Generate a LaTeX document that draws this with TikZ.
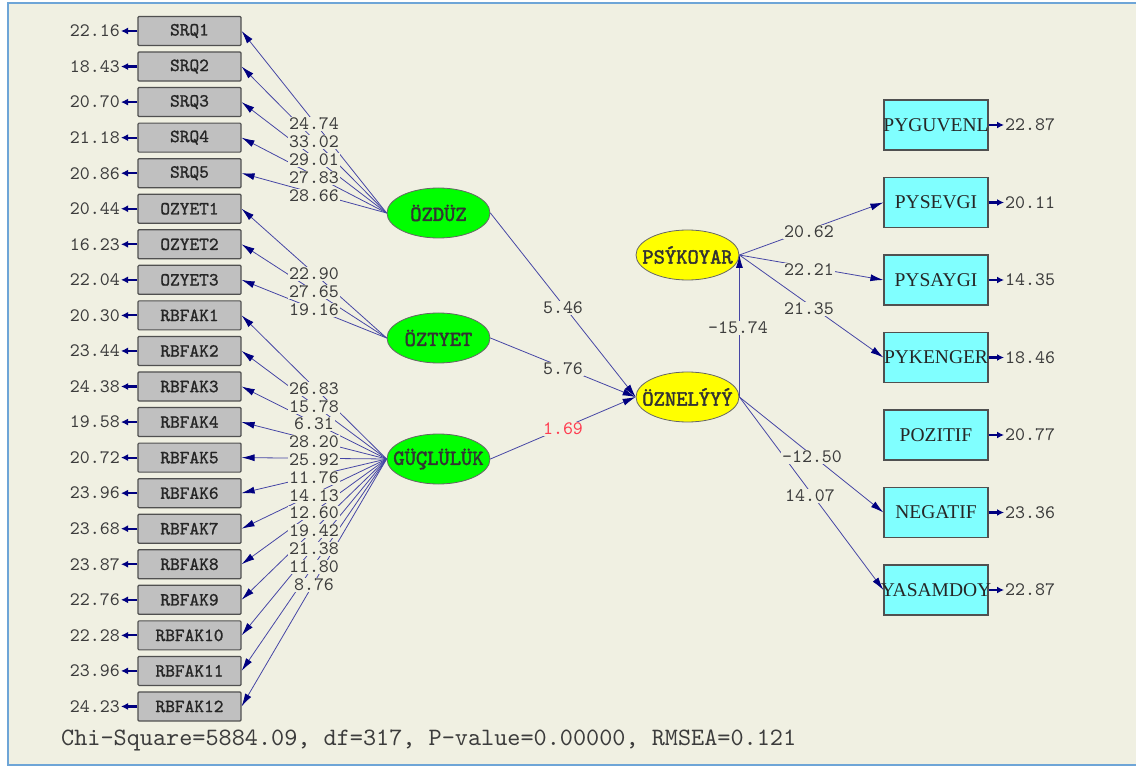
\documentclass[tikz,border=0pt]{standalone}
\usepackage{fontspec}
\setmainfont{Liberation Serif}
\newfontfamily\cour{lmmono10-regular.otf}
\newfontfamily\courb{lmmono10-regular.otf}[FakeBold=2]
\newfontfamily\courm{lmmono10-regular.otf}[FakeBold=1.2]
\newfontfamily\lserif{Liberation Serif}
\usetikzlibrary{shapes.geometric,arrows.meta}
\definecolor{bg}{RGB}{240,240,226}
\definecolor{framec}{RGB}{110,165,215}
\definecolor{boxgray}{RGB}{192,192,192}
\definecolor{edgec}{RGB}{80,80,80}
\definecolor{cyanbox}{RGB}{128,255,255}
\definecolor{latgreen}{RGB}{0,255,0}
\definecolor{latyellow}{RGB}{255,255,0}
\definecolor{pathc}{RGB}{70,70,165}
\definecolor{tipc}{RGB}{0,0,128}
\definecolor{numc}{RGB}{60,60,60}
\definecolor{redc}{RGB}{255,60,80}
\begin{document}
\begin{tikzpicture}[x=1pt,y=-1pt,
 obsL/.style={draw=edgec,line width=1.2pt,fill=boxgray,minimum width=103pt,minimum height=29pt,inner sep=0pt,rounded corners=1pt,font=\courm\fontsize{18.5}{18.5}\selectfont,text=black!85},
 obsR/.style={draw=edgec,line width=1.2pt,fill=cyanbox,minimum width=104pt,minimum height=50pt,inner sep=0pt,font=\lserif\fontsize{19.5}{19.5}\selectfont,text=black!85},
 lat/.style={ellipse,draw=black!60,line width=0.8pt,minimum width=103pt,minimum height=50pt,inner sep=0pt,font=\courb\fontsize{21.5}{21.5}\selectfont,text=black!80},
 num/.style={font=\cour\fontsize{19}{19}\selectfont,text=numc,inner sep=1pt},
 lbl/.style={num,fill=bg,inner sep=1pt},
 loadarrow/.style={draw=pathc,line width=0.8pt,-{Latex[length=13pt,width=7pt,color=tipc]}},
 errarrow/.style={draw=tipc,line width=2.2pt,-{Latex[length=7pt,width=7pt]}}
]
\useasboundingbox (0,0) rectangle (1136,767);
\clip (0,0) rectangle (1136,767);
\fill[white] (0,0) rectangle (1136,767);
\draw[framec,line width=2pt,fill=bg] (8,3) rectangle (1150,765);

% left observed variables
\foreach \lab/\v [count=\i from 0] in {SRQ1/22.16,SRQ2/18.43,SRQ3/20.70,SRQ4/21.18,SRQ5/20.86,OZYET1/20.44,OZYET2/16.23,OZYET3/22.04,RBFAK1/20.30,RBFAK2/23.44,RBFAK3/24.38,RBFAK4/19.58,RBFAK5/20.72,RBFAK6/23.96,RBFAK7/23.68,RBFAK8/23.87,RBFAK9/22.76,RBFAK10/22.28,RBFAK11/23.96,RBFAK12/24.23}{
  \node[obsL] (b\i) at (189.5,{31+35.55*\i}) {\lab};
  \node[num,anchor=east] (e\i) at (121,{31+35.55*\i}) {\v};
  \draw[errarrow] (b\i.west) -- (e\i.east);
}

% right observed variables
\foreach \lab/\v [count=\i from 1] in {PYGUVENL/22.87,PYSEVGI/20.11,PYSAYGI/14.35,PYKENGER/18.46,POZITIF/20.77,NEGATIF/23.36,YASAMDOY/22.87}{
  \node[obsR] (r\i) at (936,{125+77.5*(\i-1)}) {\makebox[0pt][c]{\lab}};
  \node[num,anchor=west] (f\i) at (1004,{125+77.5*(\i-1)}) {\v};
  \draw[errarrow] (r\i.east) -- (f\i.west);
}

% latent variables
\node[lat,fill=latgreen] (ozduz) at (438.5,213) {ÖZDÜZ};
\node[lat,fill=latgreen] (oztyet) at (438.5,338) {ÖZTYET};
\node[lat,fill=latgreen] (guc) at (438.5,459) {\makebox[0pt][c]{GÜÇLÜLÜK}};
\node[lat,fill=latyellow] (psy) at (687.5,255) {\makebox[0pt][c]{PSÝKOYAR}};
\node[lat,fill=latyellow] (ozn) at (687.5,397) {\makebox[0pt][c]{ÖZNELÝYÝ}};

% loadings
\foreach \j in {0,...,4} \draw[loadarrow] (ozduz.west) -- (b\j.east);
\foreach \j in {5,6,7} \draw[loadarrow] (oztyet.west) -- (b\j.east);
\foreach \j in {8,...,19} \draw[loadarrow] (guc.west) -- (b\j.east);

% structural paths
\draw[loadarrow] (ozduz.east) -- (ozn.west);
\draw[loadarrow] (oztyet.east) -- (ozn.west);
\draw[loadarrow] (guc.east) -- (ozn.west);
\draw[loadarrow] (ozn.east) -- (psy.east);
\draw[loadarrow] (psy.east) -- (r2.west);
\draw[loadarrow] (psy.east) -- (r3.west);
\draw[loadarrow] (psy.east) -- (r4.west);
\draw[loadarrow] (ozn.east) -- (r6.west);
\draw[loadarrow] (ozn.east) -- (r7.west);

% loading labels
\foreach \v/\y [count=\k] in {24.74/124,33.02/142,29.01/160,27.83/178,28.66/196,22.90/274,27.65/292,19.16/310,26.83/389,15.78/407,6.31/424,28.20/442,25.92/460,11.76/478,14.13/496,12.60/513,19.42/531,21.38/549,11.80/567,8.76/585}
  \node[lbl] (ll\k) at (314,\y) {\v};

% structural labels
\node[lbl] (s1) at (563,308) {5.46};
\node[lbl] (s2) at (563,369) {5.76};
\node[lbl,text=redc] (s3) at (563,429) {1.69};
\node[lbl] (s4) at (738,328) {-15.74};
\node[lbl] (s5) at (809,232) {20.62};
\node[lbl] (s6) at (809,270) {22.21};
\node[lbl] (s7) at (809,309) {21.35};
\node[lbl] (s8) at (812,457) {-12.50};
\node[lbl] (s9) at (810,496) {14.07};

% fit statistics
\node[num,anchor=west,font=\cour\fontsize{25}{25}\selectfont] (fit) at (60,740) {Chi-Square=5884.09, df=317, P-value=0.00000, RMSEA=0.121};
\end{tikzpicture}
\end{document}
